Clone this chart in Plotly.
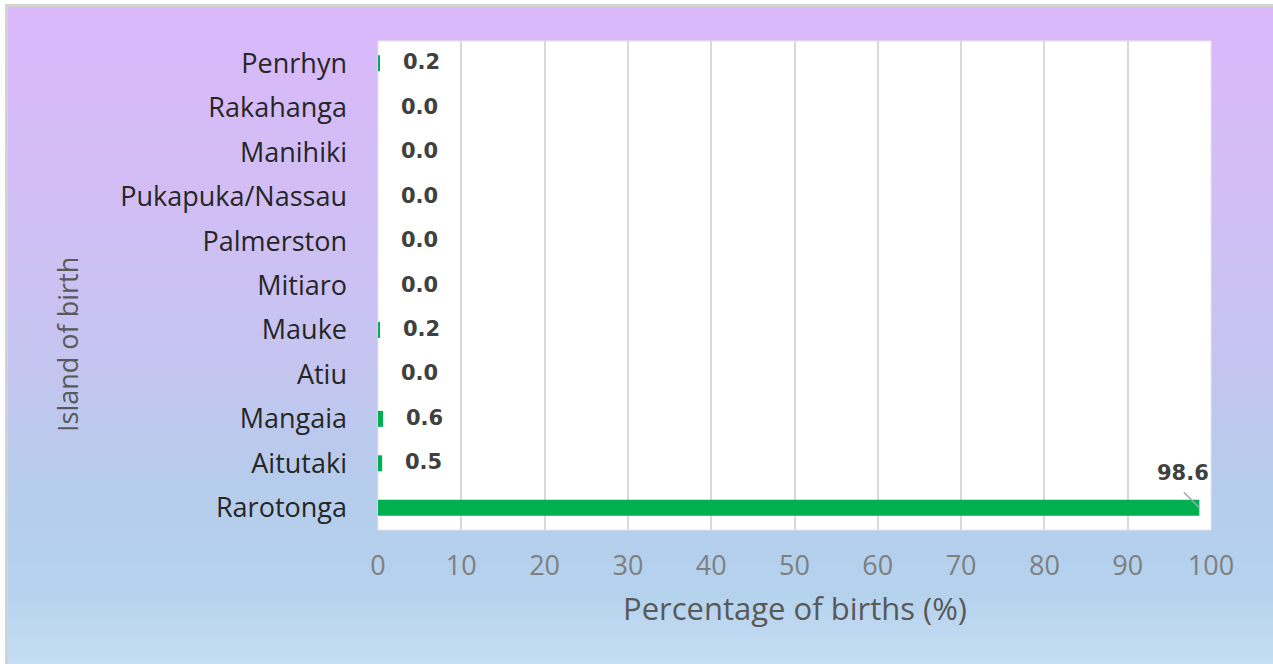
import plotly.graph_objects as go

# ---------------- data ----------------
islands = ["Penrhyn", "Rakahanga", "Manihiki", "Pukapuka/Nassau", "Palmerston",
           "Mitiaro", "Mauke", "Atiu", "Mangaia", "Aitutaki", "Rarotonga"]
percent = [0.2, 0.0, 0.0, 0.0, 0.0, 0.0, 0.2, 0.0, 0.6, 0.5, 98.6]
x_ticks = [0, 10, 20, 30, 40, 50, 60, 70, 80, 90, 100]
x_title = "Percentage of births (%)"
y_title = "Island of birth"

# ---------------- layout geometry (pixels) ----------------
W, H = 1273, 664
L, R, T, B = 378, 1211, 41, 530
PW, PH = R - L, B - T


def px(x):
    return (x - L) / PW


def py(y):
    return (B - y) / PH


# gradient stops: (pixel y, rgb)
stops = [(7, (218, 184, 250)), (200, (209, 190, 245)), (350, (198, 196, 240)),
         (480, (182, 204, 236)), (590, (180, 210, 237)), (664, (198, 221, 242))]


def grad_color(y):
    for (y0, c0), (y1, c1) in zip(stops[:-1], stops[1:]):
        if y0 <= y <= y1:
            t = (y - y0) / (y1 - y0)
            return "rgb(%d,%d,%d)" % tuple(round(a + (b - a) * t) for a, b in zip(c0, c1))
    return "rgb(%d,%d,%d)" % stops[-1][1]


shapes = []
# grey frame (top and left edges only)
shapes.append(dict(type="rect", xref="paper", yref="paper", layer="below",
                   x0=px(5), x1=px(W), y0=py(4), y1=py(H),
                   fillcolor="#d3d3d3", line=dict(width=0)))
# vertical gradient panel
step = 4
y = 7
while y < H:
    y2 = min(y + step, H)
    shapes.append(dict(type="rect", xref="paper", yref="paper", layer="below",
                       x0=px(8), x1=px(W), y0=py(y), y1=py(min(y2 + 0.6, H)),
                       fillcolor=grad_color((y + y2) / 2), line=dict(width=0)))
    y = y2
# white plot area
shapes.append(dict(type="rect", xref="paper", yref="paper", layer="below",
                   x0=0, x1=1, y0=0, y1=1, fillcolor="white",
                   line=dict(width=1, color="#e6e6e6")))

fig = go.Figure()
fig.add_trace(go.Bar(
    x=percent, y=islands, orientation="h",
    marker=dict(color="#00b050", line=dict(width=0)),
    hoverinfo="x+y",
))

FONT = "Open Sans"
LABEL_FONT = dict(family="DejaVu Sans", size=21, color="#404040")
annotations = []
for isl, v in zip(islands, percent):
    if v > 50:
        annotations.append(dict(x=v, y=isl, xref="x", yref="y", text="<b>%.1f</b>" % v,
                                showarrow=False, xanchor="center", yanchor="middle",
                                xshift=-16, yshift=35, font=LABEL_FONT))
        annotations.append(dict(x=v, y=isl, xref="x", yref="y", text="",
                                showarrow=True, arrowhead=0, arrowwidth=1.5,
                                arrowcolor="#a6a6a6", ax=-17, ay=-17))
    else:
        annotations.append(dict(x=v, y=isl, xref="x", yref="y", text="<b>%.1f</b>" % v,
                                showarrow=False, xanchor="left", yanchor="middle",
                                xshift=21, yshift=1, font=LABEL_FONT))

annotations.append(dict(x=0.5, y=py(608), xref="paper", yref="paper", text=x_title,
                        showarrow=False, xanchor="center", yanchor="middle",
                        font=dict(family=FONT, size=31, color="#595959")))
annotations.append(dict(x=px(67), y=py(345), xref="paper", yref="paper", text=y_title,
                        showarrow=False, xanchor="center", yanchor="middle", textangle=-90,
                        font=dict(family=FONT, size=27, color="#595959")))

fig.update_layout(
    width=W, height=H,
    margin=dict(l=L, r=W - R, t=T, b=H - B, pad=0),
    paper_bgcolor="white",
    plot_bgcolor="rgba(0,0,0,0)",
    showlegend=False,
    bargap=0.64,
    shapes=shapes,
    annotations=annotations,
    font=dict(family=FONT),
)
fig.update_xaxes(
    range=[0, 100], tickvals=x_ticks, ticktext=[str(t) for t in x_ticks],
    showgrid=True, gridcolor="#d9d9d9", gridwidth=2, zeroline=False,
    showline=False, ticks="", ticklabelstandoff=17,
    tickfont=dict(family=FONT, size=27, color="#7f7f7f"),
)
fig.update_yaxes(
    type="category", categoryorder="array", categoryarray=islands,
    range=[len(islands) - 0.5, -0.5], autorange=False,
    showgrid=False, zeroline=False, showline=False, ticks="",
    ticklabelstandoff=30,
    tickfont=dict(family=FONT, size=27, color="#262626"),
)

fig.write_html(
    "out.html",
    config={"displayModeBar": False},
    post_script="document.body.style.margin='0';document.body.style.overflow='hidden';",
)
